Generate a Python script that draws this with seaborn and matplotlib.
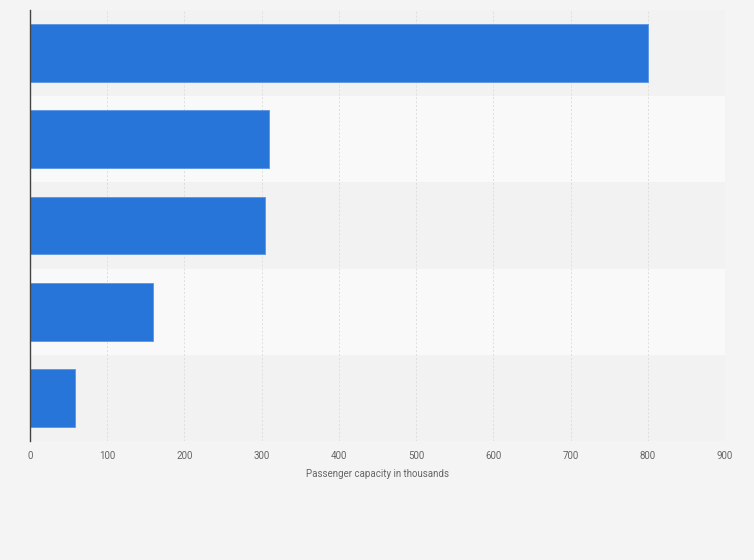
import numpy as np
import pandas as pd
import matplotlib
matplotlib.use("Agg")
import matplotlib.pyplot as plt
import seaborn as sns

# -------------------------------------------------
# Data (category names are not shown on the chart)
# -------------------------------------------------
categories = ["A", "B", "C", "D", "E"]
capacity = [800, 309, 304, 159, 58]
x_ticks = [0, 100, 200, 300, 400, 500, 600, 700, 800, 900]

df = pd.DataFrame({"category": categories, "capacity": capacity})

sns.set_theme(style="white")
plt.rcParams["font.family"] = ["Roboto", "DejaVu Sans"]

fig = plt.figure(figsize=(7.54, 5.6), dpi=100)
fig.patch.set_facecolor("#f4f4f4")
ax = fig.add_axes([30 / 754, 1 - 441 / 560, 695 / 754, 431 / 560])
ax.set_facecolor("#f4f4f4")

# alternating row bands
for i in range(len(categories)):
    ax.axhspan(i - 0.5, i + 0.5, color="#f2f2f2" if i % 2 == 0 else "#f9f9f9", zorder=0, lw=0)

sns.barplot(data=df, x="capacity", y="category", color="#2775d9", width=0.67,
            saturation=1, edgecolor="#5a95e3", linewidth=0.6, ax=ax, zorder=3)

ax.set_xlim(0, 900)
ax.set_ylim(len(categories) - 0.5, -0.5)
ax.set_xticks(x_ticks)
ax.set_xticklabels([str(t) for t in x_ticks], fontsize=7, color="#666666")
ax.set_yticks([])
ax.set_ylabel("")
ax.set_xlabel("Passenger capacity in thousands", fontsize=7, color="#666666", labelpad=6)
ax.tick_params(axis="x", length=0, pad=7)

ax.grid(axis="x", color="#dedede", linestyle=(0, (2, 2)), linewidth=0.7, zorder=1)
ax.set_axisbelow(True)

for side in ["top", "right", "bottom"]:
    ax.spines[side].set_visible(False)
ax.spines["left"].set_color("#444444")
ax.spines["left"].set_linewidth(1.0)
ax.spines["left"].set_zorder(4)

fig.savefig("out.png", dpi=100, facecolor=fig.get_facecolor())
